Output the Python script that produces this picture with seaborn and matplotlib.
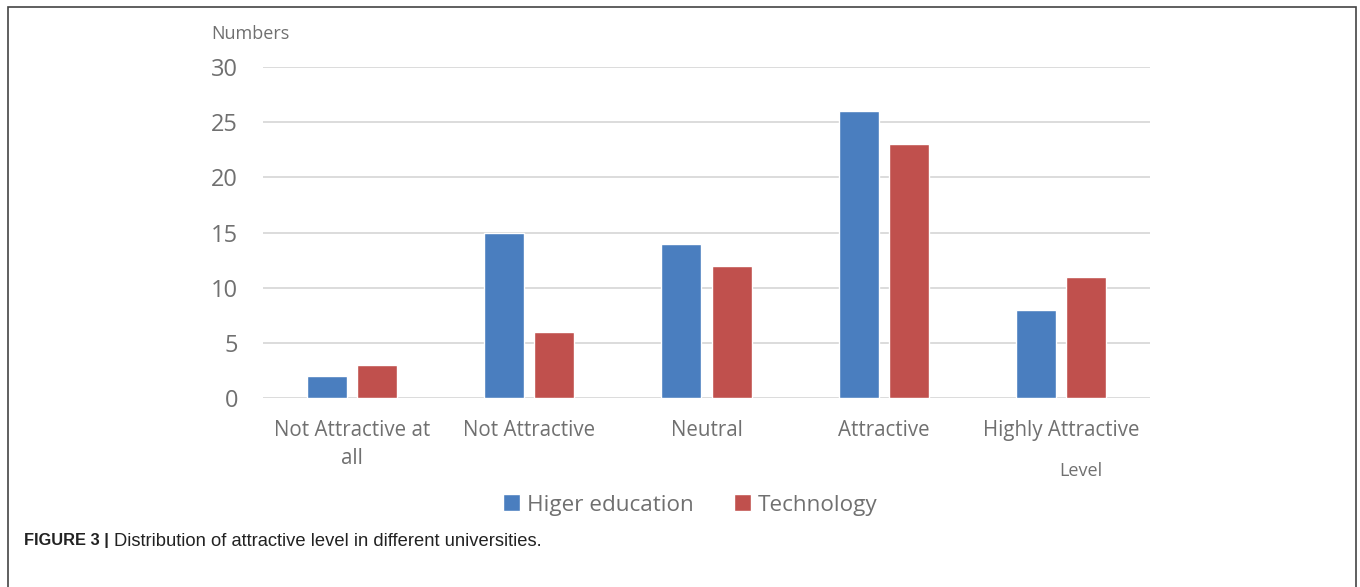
import pandas as pd
import matplotlib.pyplot as plt
import seaborn as sns
from matplotlib.patches import Rectangle

levels = ["Not Attractive at\nall", "Not Attractive", "Neutral", "Attractive", "Highly Attractive"]
higher_education = [2, 15, 14, 26, 8]
technology = [3, 6, 12, 23, 11]
series_names = ["Higer education", "Technology"]

df = pd.DataFrame({
    "Level": levels * 2,
    "Numbers": higher_education + technology,
    "Group": [series_names[0]] * len(levels) + [series_names[1]] * len(levels),
})

sns.set_style("white")
plt.rcParams['font.family'] = ['Open Sans', 'DejaVu Sans']
txt = '#707070'

fig = plt.figure(figsize=(13.6, 5.87), dpi=100)
ax = fig.add_axes([263/1360, 1-398/587, 887/1360, 331/587])

sns.barplot(data=df, x="Level", y="Numbers", hue="Group",
            palette=["#4A7EBF", "#C0504D"], width=0.564, gap=0.2,
            saturation=1, ax=ax, zorder=3)

ax.set_ylim(0, 30)
ax.set_yticks(range(0, 31, 5))
ax.grid(axis='y', color='#d9d9d9', linewidth=1.3, zorder=0)
for s in ax.spines.values():
    s.set_visible(False)
ax.tick_params(axis='y', labelsize=17, colors=txt, pad=18, length=0)
ax.tick_params(axis='x', labelsize=14.8, colors=txt, pad=16, length=0)
for lab in ax.get_xticklabels():
    lab.set_linespacing(1.45)
ax.set_xlabel("")
ax.set_ylabel("")

fig.text(250/1360, 1-34/587, "Numbers", fontsize=13, color=txt, ha='center', va='center')
fig.text(1081/1360, 1-471/587, "Level", fontsize=13, color=txt, ha='center', va='center')

leg = ax.legend(loc='center', bbox_to_anchor=(690/1360, 1-505/587), bbox_transform=fig.transFigure,
                ncol=2, frameon=False, fontsize=16.2, handlelength=0.75, handleheight=0.75,
                handletextpad=0.3, columnspacing=1.8)
for t in leg.get_texts():
    t.set_color(txt)

fig.patches.append(Rectangle((8/1360, -0.02), 1348/1360, 1.02 - 7/587, transform=fig.transFigure,
                             fill=False, edgecolor='#444444', linewidth=1.2))

cap_font = ['Liberation Sans Narrow', 'Liberation Sans']
fig.text(24/1360, 1-541/587, "FIGURE 3 |", fontsize=11.8, fontweight='bold',
         family=cap_font, color='#222222', va='center')
fig.text(114/1360, 1-541/587, "Distribution of attractive level in different universities.", fontsize=13.2,
         family=cap_font, color='#222222', va='center')

plt.savefig("out.png", dpi=100)
